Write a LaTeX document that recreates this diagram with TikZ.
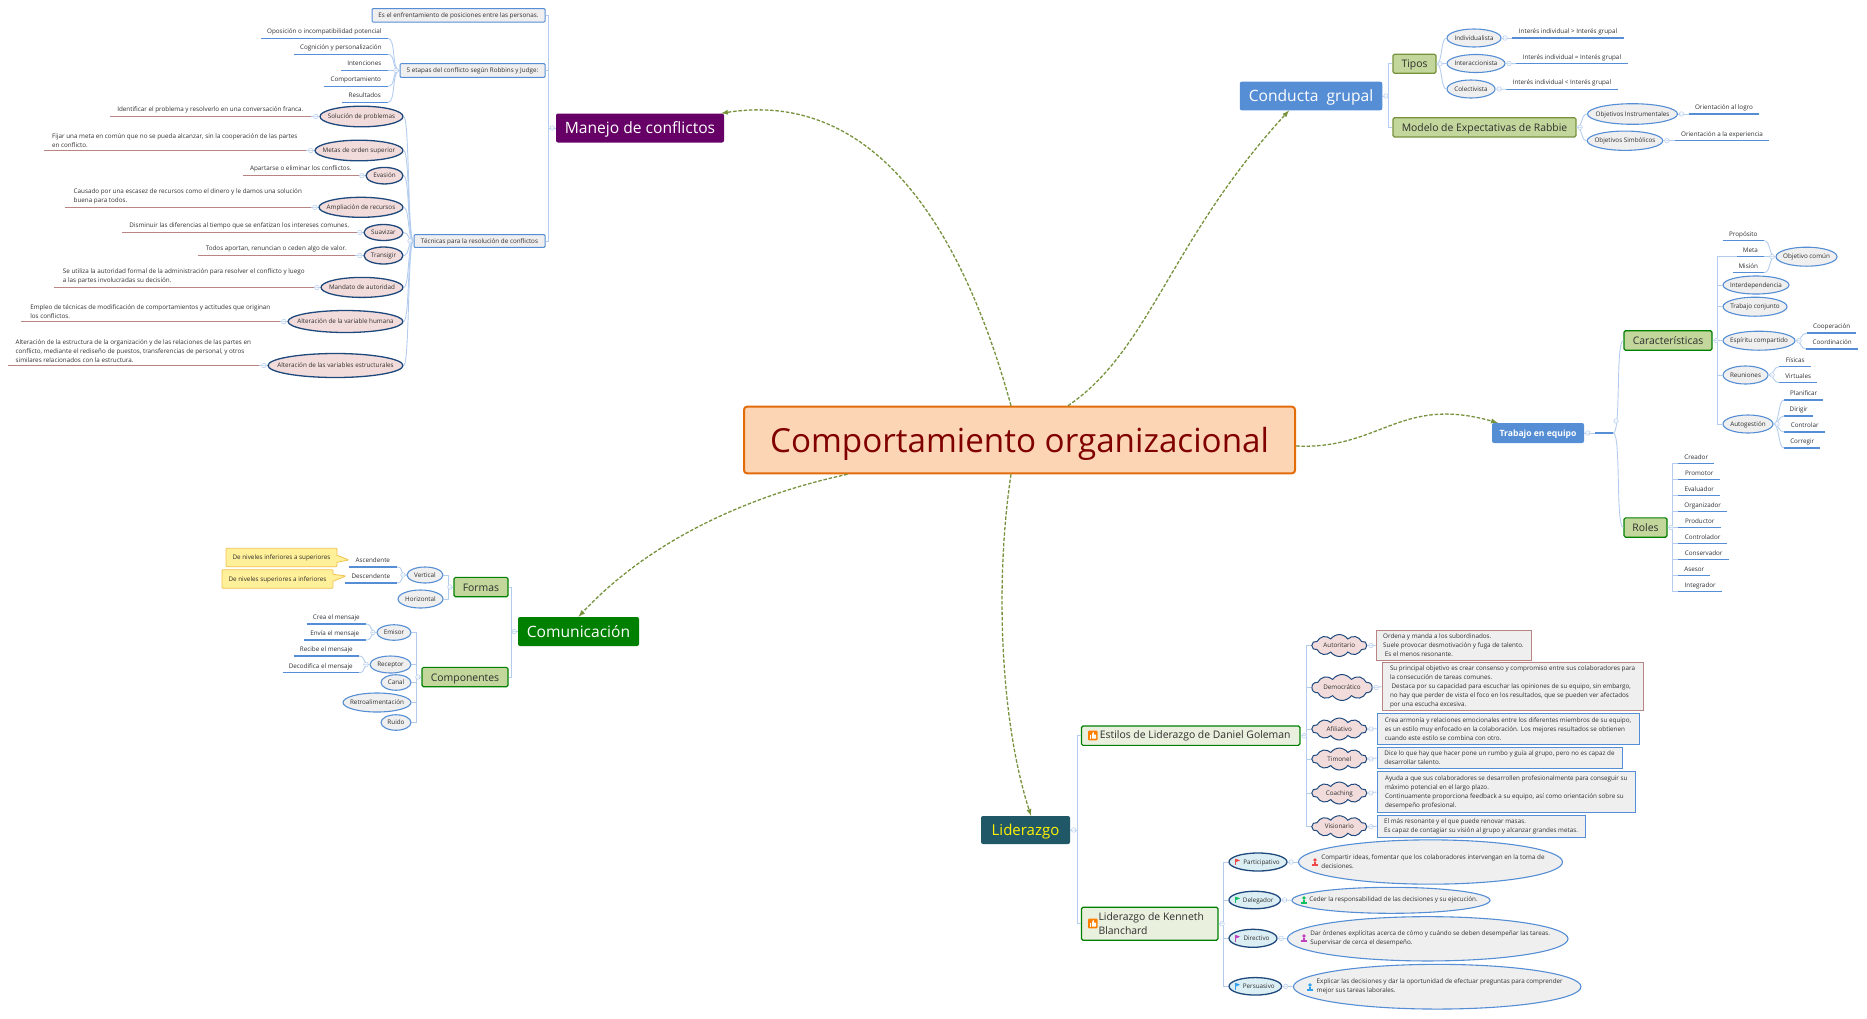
\documentclass[tikz,border=0pt]{standalone}
\usepackage{fontspec}
\setmainfont{Open Sans}
\usetikzlibrary{shapes.geometric,shapes.symbols,shapes.callouts}
\definecolor{tinta}{HTML}{2E2E2E}
\definecolor{azul}{HTML}{558ED5}
\definecolor{azulclaro}{HTML}{B4CDEE}
\definecolor{marino}{HTML}{1F497D}
\definecolor{gris}{HTML}{EFEFEF}
\definecolor{rosa}{HTML}{F2DCDB}
\definecolor{celeste}{HTML}{DBEEF3}
\definecolor{vino}{HTML}{B98484}
\definecolor{oliva}{HTML}{76923C}
\definecolor{pasto}{HTML}{C3D69B}
\definecolor{verde}{HTML}{008000}
\definecolor{crema}{HTML}{EAF0DE}
\definecolor{naranja}{HTML}{E36C0A}
\definecolor{durazno}{HTML}{FCD5B5}
\definecolor{morado}{HTML}{660066}
\definecolor{petroleo}{HTML}{215868}
\definecolor{amarillo}{HTML}{FFF099}
\definecolor{oro}{HTML}{F2C24E}
\definecolor{rojo1}{HTML}{F04848}
\definecolor{verde1}{HTML}{10C060}
\definecolor{lila1}{HTML}{C040C0}
\definecolor{azul1}{HTML}{2FA0F0}
\newcommand{\foldw}[1]{\draw[plegado] ([xshift=-3.5pt]#1.west) circle (2.3) ++(-1.4,0) -- ++(2.8,0);}
\newcommand{\folde}[1]{\draw[plegado] ([xshift=3.5pt]#1.east) circle (2.3) ++(-1.4,0) -- ++(2.8,0);}
\newcommand{\bandera}[3]{\draw[#3,line width=.8] (#1,#2+3.2) -- (#1,#2-3.2); \fill[#3] (#1,#2-3.4) -- (#1+4.6,#2-1.6) -- (#1,#2+.3) -- cycle;}
\newcommand{\persona}[3]{\fill[#3] (#1,#2-2) circle (1.9); \fill[#3] (#1-3,#2+3.5) rectangle (#1+3,#2+1.5); \fill[#3] (#1-1.2,#2) rectangle (#1+1.2,#2+2);}
\newcommand{\pulgar}[2]{\fill[orange,rounded corners=1] (#1-4.8,#2-4.8) rectangle (#1+4.8,#2+4.8); \fill[white] (#1-3,#2-.5) rectangle (#1-1.4,#2+3.2); \fill[white,rounded corners=.5] (#1-.9,#2+3.2) -- (#1-.9,#2-.8) -- (#1+.2,#2-3.4) -- (#1+1,#2-3.4) -- (#1+.9,#2-.8) -- (#1+3.2,#2-.8) -- (#1+3.2,#2+3.2) -- cycle;}
\begin{document}
\begin{tikzpicture}[x=1pt,y=-1pt,every path/.style={>=latex},
  every node/.style={inner sep=0,text=tinta,font=\fontsize{6.3}{9}\selectfont},
  tam/.style 2 args={minimum width=#1,minimum height=#2},
  uno/.style={text height=5.4,text depth=1},
  titulo/.style={rectangle,rounded corners=2,text=white,text height=12.5,text depth=1.5,font=\fontsize{15.6}{18}\selectfont},
  tema/.style={rectangle,rounded corners=1.5,fill=pasto,draw=verde,line width=1.2,text height=9.5,text depth=1.5,font=\fontsize{10.4}{14.6}\selectfont},
  temaoliva/.style={tema,draw=oliva},
  temacrema/.style={rectangle,rounded corners=1.5,draw=verde,line width=1.2,fill=crema,align=left,font=\fontsize{10.4}{14.6}\selectfont},
  caja/.style={rectangle,rounded corners=1,fill=gris,draw=azul,line width=1,uno},
  nota/.style={rectangle,fill=gris,draw=#1,line width=1,align=left},
  elipbase/.style={ellipse,inner xsep=-300pt,inner ysep=-60pt,fill=gris,draw=azul,line width=1.1},
  elip/.style={elipbase,uno},
  elipnota/.style={elipbase,align=left},
  elipos/.style={elip,fill=rosa,draw=marino,line width=1.3},
  elipce/.style={elip,fill=celeste,draw=marino,line width=1.3},
  nube/.style={cloud,cloud puffs=10,cloud puff arc=110,aspect=2.3,inner xsep=-12pt,inner ysep=-6pt,fill=rosa,draw=marino,line width=1,uno},
  globo/.style={rectangle callout,rounded corners=1,fill=amarillo,draw=oro,line width=.8,callout pointer width=7,uno},
  hoja/.style={anchor=south east,text height=4.8,text depth=1.4,inner ysep=3,append after command={(\tikzlastnode.south west) edge[draw=azul,line width=1.1] (\tikzlastnode.south east)}},
  hojad/.style={hoja,anchor=south west},
  hojanota/.style={anchor=south east,align=left,inner ysep=3.2,append after command={(\tikzlastnode.south west) edge[draw=vino,line width=1.1] (\tikzlastnode.south east)}},
  rama/.style={draw=azulclaro,line width=.9},
  codo/.style={to path={-- ++(#1,0) |- (\tikztotarget)}},
  abanico/.style={to path={.. controls +(#1,0) and +(-#1,0) .. (\tikztotarget)}},
  plegado/.style={draw=azulclaro,fill=white,line width=.5},
  flecha/.style={->,draw=oliva,line width=1.3,dash pattern=on 3.5pt off 1.8pt}]
\useasboundingbox (0,0) rectangle (1867,1018);
\node[rectangle,rounded corners=3,fill=durazno,draw=naranja,line width=2,text=red!50!black,tam={551}{66.6},text height=30,text depth=4.6,font=\fontsize{33.2}{36}\selectfont] (central) at (1019.5,440) {Comportamiento organizacional};
\node[titulo,fill=morado,tam={168}{29}]   (manejo) at (640,128)    {Manejo de conflictos};
\node[titulo,fill=verde,tam={121}{29}]    (comu)   at (578.5,631.5) {Comunicación};
\node[titulo,fill=petroleo,text=yellow,tam={89}{28},font=\fontsize{15}{18}\selectfont] (lider) at (1025.5,830) {Liderazgo};
\node[titulo,fill=azul,tam={142.5}{28.6}] (conducta) at (1311,96)  {Conducta\ \ grupal};
\node[titulo,fill=azul,tam={92}{20},text height=8,text depth=.6,font=\fontsize{8.6}{10}\bfseries] (trabajo) at (1538,433) {Trabajo en equipo};
\node[caja,tam={173}{13.4}] (enfr)  at (458.5,15.3) {Es el enfrentamiento de posiciones entre las personas.};
\node[caja,tam={145}{13.6}] (etapas) at (472.5,70.5) {5 etapas del conflicto según Robbins y Judge:};
\node[caja,tam={131}{12.6}] (tecn)  at (479.5,241)  {Técnicas para la resolución de conflictos};
\node[hoja,minimum width=127] (et1) at (388,38.3)  {Oposición o incompatibilidad potencial};
\node[hoja,minimum width=94]  (et2) at (388,54.3)  {Cognición y personalización};
\node[hoja,minimum width=47]  (et3) at (388,70.3)  {Intenciones};
\node[hoja,minimum width=64]  (et4) at (388,86.3)  {Comportamiento};
\node[hoja,minimum width=46]  (et5) at (388,102.3) {Resultados};
\node[elipos,tam={83}{20.6}]  (sol) at (361.5,116.5) {Solución de problemas};
\node[elipos,tam={88}{20.6}]  (met) at (359,150.5)   {Metas de orden superior};
\node[elipos,tam={37}{16.5}]  (eva) at (384.5,175.7) {Evasión};
\node[elipos,tam={84}{20}]    (amp) at (361,207.3)   {Ampliación de recursos};
\node[elipos,tam={39}{16}]    (sua) at (383.5,232.5) {Suavizar};
\node[elipos,tam={39}{17}]    (tra) at (383.5,255.5) {Transigir};
\node[elipos,tam={82}{20}]    (man) at (362,287.4)   {Mandato de autoridad};
\node[elipos,tam={115}{22}]   (hum) at (345.5,321.5) {Alteración de la variable humana};
\node[elipos,tam={135}{24}]   (est) at (335.5,365.5) {Alteración de las variables estructurales};
\node[hojanota,minimum width=201] (nsol) at (311,116.5) {Identificar el problema y resolverlo en una conversación franca.};
\node[hojanota,minimum width=262] (nmet) at (306,150.5) {Fijar una meta en común que no se pueda alcanzar, sin la cooperación de las partes\\en conflicto.};
\node[hojanota,minimum width=116] (neva) at (359,175.7) {Apartarse o eliminar los conflictos.};
\node[hojanota,minimum width=246] (namp) at (311,207.3) {Causado por una escasez de recursos como el dinero y le damos una solución\\buena para todos.};
\node[hojanota,minimum width=235] (nsua) at (357,232.5) {Disminuir las diferencias al tiempo que se enfatizan los intereses comunes.};
\node[hojanota,minimum width=157] (ntra) at (355,255.5) {Todos aportan, renuncian o ceden algo de valor.};
\node[hojanota,minimum width=260] (nman) at (314,287.4) {Se utiliza la autoridad formal de la administración para resolver el conflicto y luego\\a las partes involucradas su decisión.};
\node[hojanota,minimum width=259] (nhum) at (280,321.5) {Empleo de técnicas de modificación de comportamientos y actitudes que originan\\los conflictos.};
\node[hojanota,minimum width=251] (nest) at (259,365.5) {Alteración de la estructura de la organización y de las relaciones de las partes en\\conflicto, mediante el rediseño de puestos, transferencias de personal, y otros\\similares relacionados con la estructura.};
\node[tema,tam={54}{19.3}] (formas) at (481,587) {Formas};
\node[tema,tam={86}{19.3}] (compo)  at (465,677) {Componentes};
\node[elip,tam={36}{16}]   (vert)   at (425,575)   {Vertical};
\node[elip,tam={45}{18}]   (hori)   at (420.5,599) {Horizontal};
\node[hoja,minimum width=48] (asc) at (397,567) {Ascendente};
\node[hoja,minimum width=52] (des) at (397,583) {Descendente};
\node[globo,tam={111}{18.5},callout absolute pointer={(349,560)}] (gasc) at (281.5,557.5) {De niveles inferiores a superiores};
\node[globo,tam={111}{18.5},callout absolute pointer={(346,576)}] (gdes) at (277.5,579)   {De niveles superiores a inferiores};
\node[elip,tam={34}{15.5}] (emi) at (394,632.5)   {Emisor};
\node[elip,tam={41}{17}]   (rec) at (390.5,664.5) {Receptor};
\node[elip,tam={30}{15.5}] (can) at (396,682.5)   {Canal};
\node[elip,tam={68}{19}]   (ret) at (377,702.5)   {Retroalimentación};
\node[elip,tam={30}{15.5}] (rui) at (396,722.5)   {Ruido};
\node[hoja,minimum width=59] (cre) at (366,624)   {Crea el mensaje};
\node[hoja,minimum width=62] (env) at (366,640)   {Envía el mensaje};
\node[hoja,minimum width=65] (reb) at (359,656)   {Recibe el mensaje};
\node[hoja,minimum width=76] (dec) at (359,672.7) {Decodifica el mensaje};
\node[temaoliva,tam={43}{19}]    (tipos)  at (1414.5,63.8)  {Tipos};
\node[temaoliva,tam={183}{19.3}] (modelo) at (1484.5,127.3) {Modelo de Expectativas de Rabbie};
\node[elip,tam={54}{18}]   (ind) at (1474,38)    {Individualista};
\node[elip,tam={58}{18}]   (int) at (1476,63.5)  {Interaccionista};
\node[elip,tam={48}{18}]   (col) at (1471,89)    {Colectivista};
\node[elip,tam={90}{20.6}] (ins) at (1632.5,114) {Objetivos Instrumentales};
\node[elip,tam={75.5}{19.3}] (sim) at (1625,140.7) {Objetivos Simbólicos};
\node[hojad,minimum width=111.6] (lind) at (1512,38)    {Interés individual > Interés grupal};
\node[hojad,minimum width=111.5] (lint) at (1516,63.7)  {Interés individual = Interés grupal};
\node[hojad,minimum width=111.5] (lcol) at (1506,89.3)  {Interés individual < Interés grupal};
\node[hojad,minimum width=69.6]  (lins) at (1689,114)   {Orientación al logro};
\node[hojad,minimum width=93.6]  (lsim) at (1675,140.7) {Orientación a la experiencia};
\node[rectangle,minimum width=18,minimum height=0] (vacio) at (1604,433) {};
\coordinate (pliegue) at (1616,421);
\node[tema,tam={88}{19.6}] (carac) at (1668,340.5)  {Características};
\node[tema,tam={43}{19.3}] (roles) at (1645.5,527.5) {Roles};
\node[elip,tam={61}{19}] (obj) at (1806.5,256.7) {Objetivo común};
\node[elip,tam={66}{18}] (ide) at (1756,285)     {Interdependencia};
\node[elip,tam={64}{19}] (tco) at (1755,306.7)   {Trabajo conjunto};
\node[elip,tam={72}{19}] (esp) at (1759,340.7)   {Espíritu compartido};
\node[elip,tam={45}{18}] (reu) at (1745.5,375)   {Reuniones};
\node[elip,tam={50}{18}] (aut) at (1748,424)     {Autogestión};
\node[hoja,minimum width=41] (pro) at (1764,240.7) {Propósito};
\node[hoja,minimum width=27] (mta) at (1764,256.7) {Meta};
\node[hoja,minimum width=31] (mis) at (1764,272.7) {Misión};
\node[hojad,minimum width=49] (coo) at (1807,333)   {Cooperación};
\node[hojad,minimum width=52] (crd) at (1806,349)   {Coordinación};
\node[hojad,minimum width=32] (fis) at (1779,366.7) {Físicas};
\node[hojad,minimum width=38] (vir) at (1779,382.7) {Virtuales};
\node[hojad,minimum width=39] (pla) at (1784,400)   {Planificar};
\node[hojad,minimum width=29] (dir) at (1784,416)   {Dirigir};
\node[hojad,minimum width=41] (cnt) at (1784,432)   {Controlar};
\node[hojad,minimum width=36] (crr) at (1784,448)   {Corregir};
\node[hojad,minimum width=36] (r1) at (1678,463.7) {Creador};
\node[hojad,minimum width=42] (r2) at (1678,479.7) {Promotor};
\node[hojad,minimum width=42] (r3) at (1678,495.7) {Evaluador};
\node[hojad,minimum width=49] (r4) at (1678,511.7) {Organizador};
\node[hojad,minimum width=43] (r5) at (1678,527.7) {Productor};
\node[hojad,minimum width=49] (r6) at (1678,543.7) {Controlador};
\node[hojad,minimum width=51] (r7) at (1678,559.7) {Conservador};
\node[hojad,minimum width=32] (r8) at (1678,575.7) {Asesor};
\node[hojad,minimum width=44] (r9) at (1678,591.7) {Integrador};
\node[temacrema,tam={218.5}{19.3},text height=9.5,text depth=3.5] (goleman) at (1190.7,735.7) {\hspace*{9pt}Estilos de Liderazgo de Daniel Goleman};
\node[temacrema,tam={136.5}{33}]   (blanch)  at (1149.7,923.7) {\hspace*{3pt}Liderazgo de Kenneth\\\hspace*{3pt}Blanchard};
\node[nube,tam={54.6}{22}]   (n1) at (1339.3,645.5) {Autoritario};
\node[nube,tam={60}{26}]     (n2) at (1342,687.5)   {Democrático};
\node[nube,tam={54.6}{22}]   (n3) at (1339.3,729)   {Afiliativo};
\node[nube,tam={54.6}{22}]   (n4) at (1339.3,759)   {Timonel};
\node[nube,tam={54.6}{22}]   (n5) at (1339.3,793)   {Coaching};
\node[nube,tam={54.6}{22}]   (n6) at (1339.3,826.7) {Visionario};
\node[nota=vino,tam={155}{30.4}] (t1) at (1453.5,645.5) {Ordena y manda a los subordinados.\\Suele provocar desmotivación y fuga de talento.\\\ Es el menos resonante.};
\node[nota=vino,tam={261}{48}]   (t2) at (1512.5,686.7) {Su principal objetivo es crear consenso y compromiso entre sus colaboradores para\\la consecución de tareas comunes.\\\ Destaca por su capacidad para escuchar las opiniones de su equipo, sin embargo,\\no hay que perder de vista el foco en los resultados, que se pueden ver afectados\\por una escucha excesiva.};
\node[nota=azul,tam={262}{31.3}] (t3) at (1508,728.7)   {Crea armonía y relaciones emocionales entre los diferentes miembros de su equipo,\\es un estilo muy enfocado en la colaboración. Los mejores resultados se obtienen\\cuando este estilo se combina con otro.};
\node[nota=azul,tam={245}{21.7}] (t4) at (1499.5,758)   {Dice lo que hay que hacer pone un rumbo y guía al grupo, pero no es capaz de\\desarrollar talento.};
\node[nota=azul,tam={258.6}{40.3}] (t5) at (1506.3,792) {Ayuda a que sus colaboradores se desarrollen profesionalmente para conseguir su\\máximo potencial en el largo plazo.\\Continuamente proporciona feedback a su equipo, así como orientación sobre su\\desempeño profesional.};
\node[nota=azul,tam={208}{22}]   (t6) at (1481,826.3)   {El más resonante y el que puede renovar masas.\\Es capaz de contagiar su visión al grupo y alcanzar grandes metas.};
\node[elipce,tam={58}{18}]     (b1) at (1258,862)     {\hspace*{7pt}Participativo};
\node[elipce,tam={51.5}{17.5}] (b2) at (1254.7,900)   {\hspace*{7pt}Delegador};
\node[elipce,tam={48}{18}]     (b3) at (1253,938.3)   {\hspace*{7pt}Directivo};
\node[elipce,tam={52.6}{17.5}] (b4) at (1255.3,986.3) {\hspace*{7pt}Persuasivo};
\node[elipnota,tam={264}{44.3}]   (c1) at (1430.5,862)   {\hspace*{5pt}Compartir ideas, fomentar que los colaboradores intervengan en la toma de\\\hspace*{5pt}decisiones.};
\node[elipnota,tam={198}{26}]     (c2) at (1391,900.3)   {\hspace*{5pt}Ceder la responsabilidad de las decisiones y su ejecución.};
\node[elipnota,tam={280.6}{44.3}] (c3) at (1427.7,938.8) {\hspace*{5pt}Dar órdenes explícitas acerca de cómo y cuándo se deben desempeñar las tareas.\\\hspace*{5pt}Supervisar de cerca el desempeño.};
\node[elipnota,tam={287.5}{44.7}] (c4) at (1437.2,986.7) {\hspace*{5pt}Explicar las decisiones y dar la oportunidad de efectuar preguntas para comprender\\\hspace*{5pt}mejor sus tareas laborales.};
\draw[rama] (manejo.west) edge[codo=-7] (enfr.east);
\draw[rama] (manejo.west) edge[codo=-7] (etapas.east);
\draw[rama] (manejo.west) edge[codo=-7] (tecn.east);
\draw[rama] (etapas.west) edge[abanico=-8] (et1.south east);
\draw[rama] (etapas.west) edge[abanico=-8] (et2.south east);
\draw[rama] (etapas.west) edge[abanico=-8] (et3.south east);
\draw[rama] (etapas.west) edge[abanico=-8] (et4.south east);
\draw[rama] (etapas.west) edge[abanico=-8] (et5.south east);
\draw[rama] (tecn.west) edge[abanico=-6] (sol.east);
\draw[rama] (tecn.west) edge[abanico=-6] (met.east);
\draw[rama] (tecn.west) edge[abanico=-6] (eva.east);
\draw[rama] (tecn.west) edge[abanico=-6] (amp.east);
\draw[rama] (tecn.west) edge[abanico=-6] (sua.east);
\draw[rama] (tecn.west) edge[abanico=-6] (tra.east);
\draw[rama] (tecn.west) edge[abanico=-6] (man.east);
\draw[rama] (tecn.west) edge[abanico=-6] (hum.east);
\draw[rama] (tecn.west) edge[abanico=-6] (est.east);
\draw[rama] (nsol.south east) edge (sol.west);
\draw[rama] (nmet.south east) edge (met.west);
\draw[rama] (neva.south east) edge (eva.west);
\draw[rama] (namp.south east) edge (amp.west);
\draw[rama] (nsua.south east) edge (sua.west);
\draw[rama] (ntra.south east) edge (tra.west);
\draw[rama] (nman.south east) edge (man.west);
\draw[rama] (nhum.south east) edge (hum.west);
\draw[rama] (nest.south east) edge (est.west);
\draw[rama] (comu.west) edge[codo=-6] (formas.east);
\draw[rama] (comu.west) edge[codo=-6] (compo.east);
\draw[rama] (formas.west) edge[codo=-5] (vert.east);
\draw[rama] (formas.west) edge[codo=-5] (hori.east);
\draw[rama] (vert.west) edge[abanico=-7] (asc.south east);
\draw[rama] (vert.west) edge[abanico=-7] (des.south east);
\draw[rama] (compo.west) edge[codo=-5] (emi.east);
\draw[rama] (compo.west) edge[codo=-5] (rec.east);
\draw[rama] (compo.west) edge[codo=-5] (can.east);
\draw[rama] (compo.west) edge[codo=-5] (ret.east);
\draw[rama] (compo.west) edge[codo=-5] (rui.east);
\draw[rama] (emi.west) edge[abanico=-7] (cre.south east);
\draw[rama] (emi.west) edge[abanico=-7] (env.south east);
\draw[rama] (rec.west) edge[abanico=-7] (reb.south east);
\draw[rama] (rec.west) edge[abanico=-7] (dec.south east);
\draw[rama] (conducta.east) edge[codo=6] (tipos.west);
\draw[rama] (conducta.east) edge[codo=6] (modelo.west);
\draw[rama] (tipos.east) edge[abanico=6] (ind.west);
\draw[rama] (tipos.east) edge[abanico=6] (int.west);
\draw[rama] (tipos.east) edge[abanico=6] (col.west);
\draw[rama] (modelo.east) edge[abanico=6] (ins.west);
\draw[rama] (modelo.east) edge[abanico=6] (sim.west);
\draw[rama] (ind.east) edge (lind.south west);
\draw[rama] (int.east) edge (lint.south west);
\draw[rama] (col.east) edge (lcol.south west);
\draw[rama] (ins.east) edge (lins.south west);
\draw[rama] (sim.east) edge (lsim.south west);
\draw[azul,line width=1.1] (vacio.west) edge (vacio.east);
\draw[rama] (trabajo.east) edge (vacio.west);
\draw[rama] (vacio.east) edge[abanico=8] (carac.west);
\draw[rama] (vacio.east) edge[abanico=8] (roles.west);
\draw[rama] (carac.east) edge[codo=5] (mta.south west);
\draw[rama] (carac.east) edge[codo=5] (ide.west);
\draw[rama] (carac.east) edge[codo=5] (tco.west);
\draw[rama] (carac.east) edge[codo=5] (esp.west);
\draw[rama] (carac.east) edge[codo=5] (reu.west);
\draw[rama] (carac.east) edge[codo=5] (aut.west);
\draw[rama] (obj.west) edge[abanico=-7] (pro.south east);
\draw[rama] (obj.west) edge[abanico=-7] (mta.south east);
\draw[rama] (obj.west) edge[abanico=-7] (mis.south east);
\draw[rama] (esp.east) edge[abanico=6] (coo.south west);
\draw[rama] (esp.east) edge[abanico=6] (crd.south west);
\draw[rama] (reu.east) edge[abanico=6] (fis.south west);
\draw[rama] (reu.east) edge[abanico=6] (vir.south west);
\draw[rama] (aut.east) edge[abanico=6] (pla.south west);
\draw[rama] (aut.east) edge[abanico=6] (dir.south west);
\draw[rama] (aut.east) edge[abanico=6] (cnt.south west);
\draw[rama] (aut.east) edge[abanico=6] (crr.south west);
\draw[rama] (roles.east) edge[codo=5] (r1.south west);
\draw[rama] (roles.east) edge[codo=5] (r2.south west);
\draw[rama] (roles.east) edge[codo=5] (r3.south west);
\draw[rama] (roles.east) edge[codo=5] (r4.south west);
\draw[rama] (roles.east) edge[codo=5] (r5.south west);
\draw[rama] (roles.east) edge[codo=5] (r6.south west);
\draw[rama] (roles.east) edge[codo=5] (r7.south west);
\draw[rama] (roles.east) edge[codo=5] (r8.south west);
\draw[rama] (roles.east) edge[codo=5] (r9.south west);
\draw[rama] (lider.east) edge[codo=7] (goleman.west);
\draw[rama] (lider.east) edge[codo=7] (blanch.west);
\draw[rama] (goleman.east) edge[codo=6] (n1.west);
\draw[rama] (goleman.east) edge[codo=6] (n2.west);
\draw[rama] (goleman.east) edge[codo=6] (n3.west);
\draw[rama] (goleman.east) edge[codo=6] (n4.west);
\draw[rama] (goleman.east) edge[codo=6] (n5.west);
\draw[rama] (goleman.east) edge[codo=6] (n6.west);
\draw[rama] (n1.east) edge (t1.west);
\draw[rama] (n2.east) edge (t2.west);
\draw[rama] (n3.east) edge (t3.west);
\draw[rama] (n4.east) edge (t4.west);
\draw[rama] (n5.east) edge (t5.west);
\draw[rama] (n6.east) edge (t6.west);
\draw[rama] (blanch.east) edge[codo=5] (b1.west);
\draw[rama] (blanch.east) edge[codo=5] (b2.west);
\draw[rama] (blanch.east) edge[codo=5] (b3.west);
\draw[rama] (blanch.east) edge[codo=5] (b4.west);
\draw[rama] (b1.east) edge (c1.west);
\draw[rama] (b2.east) edge (c2.west);
\draw[rama] (b3.east) edge (c3.west);
\draw[rama] (b4.east) edge (c4.west);
\foldw{manejo}
\foldw{etapas}
\foldw{tecn}
\foldw{sol}
\foldw{met}
\foldw{eva}
\foldw{amp}
\foldw{sua}
\foldw{tra}
\foldw{man}
\foldw{hum}
\foldw{est}
\foldw{comu}
\foldw{formas}
\foldw{compo}
\foldw{vert}
\foldw{emi}
\foldw{rec}
\foldw{obj}
\folde{conducta}
\folde{tipos}
\folde{modelo}
\folde{ind}
\folde{int}
\folde{col}
\folde{ins}
\folde{sim}
\folde{trabajo}
\draw[plegado] (pliegue) circle (2.3) ++(-1.4,0) -- ++(2.8,0);
\folde{carac}
\folde{roles}
\folde{esp}
\folde{reu}
\folde{aut}
\folde{lider}
\folde{goleman}
\folde{blanch}
\folde{n1}
\folde{n2}
\folde{n3}
\folde{n4}
\folde{n5}
\folde{n6}
\folde{b1}
\folde{b2}
\folde{b3}
\folde{b4}
\pulgar{1092.8}{735.5}
\pulgar{1092.8}{923.5}
\bandera{1235.5}{862}{rojo1}
\bandera{1235.5}{900}{verde1}
\bandera{1235.5}{938.3}{lila1}
\bandera{1235.5}{986.3}{azul1}
\persona{1315}{862}{rojo1}
\persona{1304}{900}{verde1}
\persona{1304}{938}{lila1}
\persona{1310}{987}{azul1}
\draw[flecha] ([xshift=-8.5pt]central.north) .. controls (960,220) and (870,90) .. ([xshift=-3pt]manejo.north east);
\draw[flecha] ([xshift=48.5pt]central.north) .. controls (1150,350) and (1170,240) .. ([xshift=-22pt]conducta.south);
\draw[flecha] ([yshift=-6pt]central.east) .. controls (1380,450) and (1400,395) .. ([xshift=6pt]trabajo.north west);
\draw[flecha] ([xshift=-172pt]central.south) .. controls (750,495) and (650,540) .. (comu.north);
\draw[flecha] ([xshift=-8.5pt]central.south) .. controls (995,580) and (1000,720) .. ([xshift=5.5pt]lider.north);
\end{tikzpicture}
\end{document}
